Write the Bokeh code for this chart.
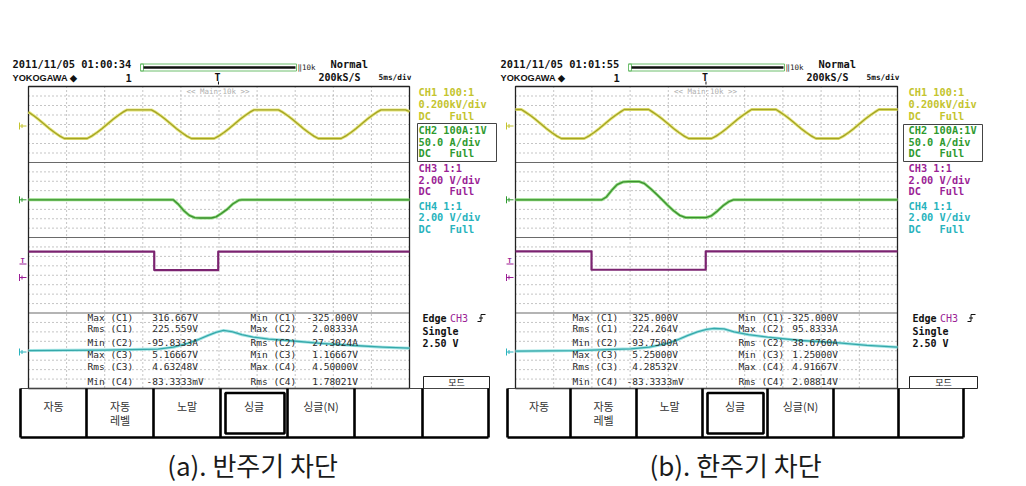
from bokeh.plotting import figure
from bokeh.models import Range1d
from bokeh.core.properties import value
from bokeh.embed import file_html
from bokeh.resources import INLINE

# ---------------- data read from the two oscilloscope screens ----------------
# time across the screen: 0..50 ms (10 div x 5 ms/div)
ch1_a_t = [0, 0.65, 1.34, 2.04, 2.73, 3.43, 4.12, 4.7, 7.7, 8.28, 8.98, 9.67, 10.37, 11.06, 11.76,
           12.45, 12.93, 16.13, 16.61, 17.31, 18.0, 18.7, 19.39, 20.09, 20.78, 21.37, 24.37, 24.95,
           25.65, 26.34, 27.04, 27.73, 28.43, 29.12, 29.6, 32.8, 33.28, 33.98, 34.67, 35.37, 36.06,
           36.76, 37.45, 38.03, 41.03, 41.61, 42.31, 43.0, 43.7, 44.39, 45.09, 45.78, 46.27, 49.47, 50]
ch1_a_v = [267, 192, 100, 0, -100, -192, -272, -325, -325, -272, -192, -100, 0, 100, 192,
           272, 316.7, 316.7, 272, 192, 100, 0, -100, -192, -272, -325, -325, -272,
           -192, -100, 0, 100, 192, 272, 316.7, 316.7, 272, 192, 100, 0, -100,
           -192, -272, -325, -325, -272, -192, -100, 0, 100, 192, 272, 316.7, 316.7, 280]
ch1_b_t = [0, 0.77, 1.25, 1.95, 2.64, 3.34, 4.03, 4.73, 5.42, 6.0, 9.0, 9.58, 10.28, 10.97, 11.67,
           12.36, 13.06, 13.75, 14.23, 17.43, 17.91, 18.61, 19.3, 20.0, 20.69, 21.39, 22.08, 22.67,
           25.67, 26.25, 26.95, 27.64, 28.34, 29.03, 29.73, 30.42, 30.9, 34.1, 34.58, 35.28, 35.97,
           36.67, 37.36, 38.06, 38.75, 39.33, 42.33, 42.91, 43.61, 44.3, 45.0, 45.69, 46.39, 47.08,
           47.57, 50]
ch1_b_v = [325, 325, 272, 192, 100, 0, -100, -192, -272, -325, -325, -272, -192, -100, 0,
           100, 192, 272, 325, 325, 272, 192, 100, 0, -100, -192, -272, -325,
           -325, -272, -192, -100, 0, 100, 192, 272, 325, 325, 272, 192, 100,
           0, -100, -192, -272, -325, -325, -272, -192, -100, 0, 100, 192, 272,
           325, 325]

ch2_a_t = [0, 19.0, 19.7, 20.4, 21.1, 21.8, 22.5, 24.0, 24.6, 25.3, 26.1, 26.8, 27.6, 28.0, 50]
ch2_a_v = [0, 0, -25, -58, -82, -94, -95.8, -95.8, -90, -72, -49, -22, -2, 0, 0]
ch2_b_t = [0, 11.3, 11.9, 12.6, 13.3, 14.1, 14.8, 16.2, 16.9, 17.7, 18.5, 19.2, 19.9, 20.7, 21.5,
           22.3, 24.9, 25.6, 26.4, 27.2, 28.0, 28.5, 50]
ch2_b_v = [0, 0, 15, 50, 80, 94, 95.8, 95.8, 85, 58, 28, 0, -28, -58, -82,
           -93.75, -93.75, -85, -60, -30, -8, 0, 0]

ch3_a_t = [0, 16.5, 16.5, 24.9, 24.9, 50]
ch3_a_v = [5.17, 5.17, 1.17, 1.17, 5.17, 5.17]
ch3_b_t = [0, 9.95, 9.95, 24.9, 24.9, 50]
ch3_b_v = [5.25, 5.25, 1.25, 1.25, 5.25, 5.25]

ch4_a_t = [0, 10, 17.0, 19.0, 20.9, 22.3, 23.5, 24.6, 25.6, 26.8, 28.0, 29.5, 31.5, 34.0, 38.3, 42.7, 46.5, 50]
ch4_a_v = [0.3, 0.4, 0.6, 1.0, 1.8, 2.6, 3.4, 4.1, 4.5, 4.2, 3.6, 3.1, 2.7, 2.4, 1.8, 1.35, 1.0, 0.8]
ch4_b_t = [0, 8, 15.1, 17.5, 19.9, 21.3, 22.5, 23.8, 25.0, 26.0, 27.3, 28.6, 30.5, 33.0, 37.3, 41.6, 46.0, 50]
ch4_b_v = [0.17, 0.3, 0.67, 1.0, 1.8, 2.6, 3.4, 4.2, 4.7, 4.9, 4.8, 4.2, 3.6, 3.1, 2.4, 2.0, 1.4, 1.0]

trigger_t = 24.8

meas_col1_labels = ["Max (C1)", "Rms (C1)", "Min (C2)", "Max (C3)", "Rms (C3)", "Min (C4)"]
meas_col2_labels = ["Min (C1)", "Max (C2)", "Rms (C2)", "Min (C3)", "Max (C4)", "Rms (C4)"]
a_col1_values = [" 316.667V", " 225.559V", "-95.8333A", " 5.16667V", " 4.63248V", "-83.3333mV"]
a_col2_values = ["-325.000V", " 2.08333A", " 27.3024A", " 1.16667V", " 4.50000V", " 1.78021V"]
b_col1_values = [" 325.000V", " 224.264V", "-93.7500A", " 5.25000V", " 4.28532V", "-83.3333mV"]
b_col2_values = ["-325.000V", " 95.8333A", " 38.6760A", " 1.25000V", " 4.91667V", " 2.08814V"]

ch_settings = [["CH1 100:1", "0.200kV/div", "DC   Full"],
               ["CH2 100A:1V", "50.0 A/div", "DC   Full"],
               ["CH3 1:1", "2.00 V/div", "DC   Full"],
               ["CH4 1:1", "2.00 V/div", "DC   Full"]]
trigger_lines = ["Edge", "Single", "2.50 V"]
button_labels = [["자동"], ["자동", "레벨"], ["노말"], ["싱글"], ["싱글(N)"]]
timestamps = ["2011/11/05 01:00:34", "2011/11/05 01:01:55"]
captions = ["(a). 반주기 차단", "(b). 한주기 차단"]

# ---------------- layout / style ----------------
MONO = "DejaVu Sans Mono"
KR = "Noto Sans CJK KR"
CH_COL = ["#c4c42e", "#2f9a2f", "#9b1f96", "#29b3bd"]
ZONES = [86, 162, 237, 312.5, 388]
# channel zero level (page px) and scale (px per unit)
CH_ZERO = [123.5, 199.3, 275.0, 351.5]
CH_K = [0.0446, 0.19, 4.6, 4.8]
PW, PH = 1024, 484

screens = [
    dict(key="a", hx=12, gx0=28, gx1=409, tx=418, box=(417, 496, 123, 161), mode=(423, 489),
         btn=[20, 86, 153, 220, 287, 354, 422, 488], single=(225, 284), cap_x=252,
         c1l=87, c1v=146, c2l=250, c2v=306,
         waves=[(ch1_a_t, ch1_a_v), (ch2_a_t, ch2_a_v), (ch3_a_t, ch3_a_v), (ch4_a_t, ch4_a_v)],
         vals=(a_col1_values, a_col2_values)),
    dict(key="b", hx=500, gx0=515, gx1=897, tx=908, box=(903, 982, 124, 161), mode=(909, 977),
         btn=[507, 570, 636, 702, 767, 833, 898, 963], single=(707, 763), cap_x=735,
         c1l=572, c1v=626, c2l=738, c2v=786,
         waves=[(ch1_b_t, ch1_b_v), (ch2_b_t, ch2_b_v), (ch3_b_t, ch3_b_v), (ch4_b_t, ch4_b_v)],
         vals=(b_col1_values, b_col2_values)),
]

p = figure(width=PW, height=PH, x_range=Range1d(0, PW), y_range=Range1d(PH, 0),
           output_backend="svg", toolbar_location=None, x_axis_type=None, y_axis_type=None,
           min_border=0, outline_line_color=None, background_fill_color="white",
           border_fill_color="white")

xr = {}
for s in screens:
    gw = s["gx1"] - s["gx0"]
    xr["t_" + s["key"]] = Range1d((0 - s["gx0"]) / gw * 50, (PW - s["gx0"]) / gw * 50)
yr = {}
for n in range(4):
    yr["ch%d" % (n + 1)] = Range1d((CH_ZERO[n] - PH) / CH_K[n], (CH_ZERO[n] - 0) / CH_K[n])
p.extra_x_ranges = xr
p.extra_y_ranges = yr

NB = "\u00a0"


def txt(x, y, s, color="#111111", size=10, font=MONO, bold=False, align="left", alpha=1.0):
    p.text(x=[x], y=[y], text=[s.replace(" ", NB)], text_color=color, text_font=value(font),
           text_font_size="%.1fpx" % size, text_font_style="bold" if bold else "normal",
           text_align=align, text_baseline="middle", text_alpha=alpha)


def seg(x0, y0, x1, y1, color="#000000", width=1.0, dash="solid"):
    p.segment(x0=[x0], y0=[y0], x1=[x1], y1=[y1], line_color=color, line_width=width,
              line_dash=dash)


def box(l, r, t, b, color="#000000", width=1.0):
    p.quad(left=[l], right=[r], top=[t], bottom=[b], fill_color=None, line_color=color,
           line_width=width)


for si, s in enumerate(screens):
    gx0, gx1, hx = s["gx0"], s["gx1"], s["hx"]
    gw = gx1 - gx0
    # ---- grid ----
    for zi in range(4):
        top, bot = ZONES[zi], ZONES[zi + 1]
        for j in range(1, 8):
            y = top + j * (bot - top) / 8
            seg(gx0, y, gx1, y, "#8a8a8a", 1, "1 3")
    for i in range(1, 10):
        x = gx0 + i * gw / 10
        seg(x, ZONES[0], x, ZONES[-1], "#8a8a8a", 1, "1 3")
    for zy in ZONES[1:-1]:
        seg(gx0, zy, gx1, zy, "#6a6a6a", 1.2)
    box(gx0, gx1, ZONES[0], ZONES[-1], "#222222", 1.3)
    txt(gx0 + 0.5 * gw - 1, 91, "<< Main:10k >>", "#b0b0b0", 7.5, align="center")

    # ---- waveforms ----
    xname = "t_" + s["key"]
    halo = ["#e6e67c", "#8fdc7f", None, "#9fe3e3"]
    core = ["#a3a325", "#3d8f2f", "#7b2370", "#36a8aa"]
    widths = [1.3, 1.3, 2.2, 1.3]
    for n, (tt, vv) in enumerate(s["waves"]):
        if halo[n]:
            p.line(x=tt, y=vv, x_range_name=xname, y_range_name="ch%d" % (n + 1),
                   line_color=halo[n], line_width=3.0, line_join="round")
        p.line(x=tt, y=vv, x_range_name=xname, y_range_name="ch%d" % (n + 1),
               line_color=core[n], line_width=widths[n], line_join="round")

    # ground markers at the left of the grid
    for n in range(4):
        y = CH_ZERO[n] + (2 if n == 0 else 0) + (2 if n == 2 else 0)
        mx = gx0 - 6
        seg(mx - 3, y, mx + 4, y, CH_COL[n], 1)
        seg(mx - 3, y - 3.5, mx - 3, y + 3.5, CH_COL[n], 1)
        seg(mx - 0.5, y - 2, mx - 0.5, y + 2, CH_COL[n], 1)
    txt(gx0 - 8, 260, "T", CH_COL[2], 7, bold=True, align="left")
    seg(gx0 - 9, 263.5, gx0 - 2, 263.5, CH_COL[2], 1)

    # ---- header ----
    txt(hx, 63, timestamps[si], "#111111", 10.4, bold=True)
    txt(hx, 77, "YOKOGAWA ◆", "#111111", 9.2, font="Liberation Sans", bold=True)
    txt(hx + 113, 77, "1", "#111111", 10.4, bold=True)
    box(hx + 128, hx + 284, 63.5, 70.5, "#6fbf6f", 1)
    box(hx + 128, hx + 131, 63.5, 70.5, "#6fbf6f", 1)
    seg(hx + 131, 67, hx + 283, 67, "#111111", 2.4)
    txt(hx + 285, 66.5, "‖10k", "#222222", 7.5)
    txt(hx + 318, 63, "Normal", "#111111", 10.4, bold=True)
    tx_trig = gx0 + trigger_t / 50 * gw
    txt(tx_trig, 77, "T", "#111111", 10, bold=True, align="center")
    seg(tx_trig + 1, 81, tx_trig + 1, 84, "#111111", 1)
    txt(hx + 306, 77, "200kS/S", "#111111", 10, bold=True)
    txt(hx + 366, 77, "5ms/div", "#111111", 7.8, bold=True)

    # ---- channel settings column ----
    tx = s["tx"]
    for g in range(4):
        for r in range(3):
            txt(tx, 91.7 + 37.8 * g + 11.7 * r, ch_settings[g][r], CH_COL[g], 10.3, bold=True)
    bl, br, bt, bb = s["box"]
    box(bl, br, bt, bb, "#444444", 1)

    # trigger info
    ex = tx + 4
    txt(ex, 318, trigger_lines[0], "#111111", 10, bold=True)
    txt(ex + 27.5, 318, "CH3", CH_COL[2], 10)
    seg(ex + 55, 321, ex + 58.5, 321, "#111111", 1)
    seg(ex + 58.5, 321, ex + 58.5, 314, "#111111", 1)
    seg(ex + 58.5, 314, ex + 63, 314, "#111111", 1)
    seg(ex + 56.5, 317.5, ex + 60.5, 317.5, "#111111", 1)
    txt(ex, 330.5, trigger_lines[1], "#111111", 10, bold=True)
    txt(ex, 342.5, trigger_lines[2], "#111111", 10, bold=True)
    m0, m1 = s["mode"]
    box(m0, m1, 376, 388, "#222222", 1)
    txt((m0 + m1) / 2, 381.5, "모드", "#222222", 9, font=KR, align="center")

    # ---- measurement table ----
    row_y = [316.5, 328, 341.5, 353.5, 366, 380.5]
    c1v, c2v = s["vals"]
    for r in range(6):
        txt(s["c1l"], row_y[r], meas_col1_labels[r], "#2a2a2a", 9.5)
        txt(s["c1v"], row_y[r], c1v[r], "#2a2a2a", 9.5)
        txt(s["c2l"], row_y[r], meas_col2_labels[r], "#2a2a2a", 9.5)
        txt(s["c2v"], row_y[r], c2v[r], "#2a2a2a", 9.5)

    # ---- soft-key buttons ----
    b = s["btn"]
    seg(b[0], 388, b[-1], 388, "#444444", 1)
    seg(b[0], 437, b[-1], 437, "#000000", 2.6)
    for bx in b:
        seg(bx, 388, bx, 437, "#000000", 2.6)
    sl, sr = s["single"]
    box(sl, sr, 392.5, 433, "#000000", 2.6)
    for k, lab in enumerate(button_labels):
        cx = (b[k] + b[k + 1]) / 2
        for li, line in enumerate(lab):
            txt(cx, 405.5 + 13.5 * li, line, "#333333", 11, font=KR, align="center")

    # ---- caption ----
    txt(s["cap_x"], 464, captions[si], "#1a1a1a", 26, font=KR, align="center")

open("out.html", "w").write(file_html(p, INLINE))
